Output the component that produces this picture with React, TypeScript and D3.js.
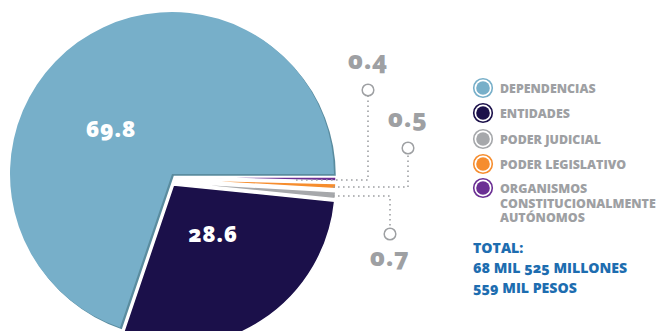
import React from "react";
import * as d3 from "d3";

const categories = [
  "ORGANISMOS CONSTITUCIONALMENTE AUTÓNOMOS",
  "PODER LEGISLATIVO",
  "PODER JUDICIAL",
  "ENTIDADES",
  "DEPENDENCIAS",
];
const values = [0.4, 0.5, 0.7, 28.6, 69.8];
const colors = ["#6b2f94", "#f68d2e", "#a6a8ab", "#1b104a", "#77afc9"];
const valueLabels = ["0.4", "0.5", "0.7", "28.6", "69.8"];

const legendItems = ["DEPENDENCIAS", "ENTIDADES", "PODER JUDICIAL", "PODER LEGISLATIVO", "ORGANISMOS"];
const legendColors = ["#77afc9", "#1b104a", "#a6a8ab", "#f68d2e", "#6b2f94"];
const legendExtra = ["CONSTITUCIONALMENTE", "AUTÓNOMOS"];
const totalLines = ["TOTAL:", "68 MIL 525 MILLONES", "559 MIL PESOS"];

const W = 658;
const H = 331;
const cx = 172;
const cy = 174;
const R = 162;
const offsets = [
  [2, 3],
  [2, 5.5],
  [2, 8.5],
  [1.5, 11],
  [0, 0],
];
const FONT = "'Open Sans', 'Lato', sans-serif";
const GRAY = "#9ea0a3";
const BLUE = "#1d6db0";

export default function App() {
  const pie = d3
    .pie<number>()
    .sort(null)
    .startAngle(Math.PI / 2)
    .endAngle(Math.PI / 2 + 2 * Math.PI)
    .value((d) => d);
  const arcs = pie(values);
  const arc = d3.arc<d3.PieArcDatum<number>>().innerRadius(0).outerRadius(R);

  const big = arcs[4];

  const callouts = [
    { i: 0, cxp: 368, cyp: 90, lx: 368, ly: 69, lineY: 180, startX: 296 },
    { i: 1, cxp: 408, cyp: 148, lx: 408, ly: 127, lineY: 187, startX: 333 },
    { i: 2, cxp: 390, cyp: 234, lx: 390, ly: 266, lineY: 196, startX: 333 },
  ];

  const numStyle = { fontFeatureSettings: "'onum'", letterSpacing: "0.8px" } as React.CSSProperties;

  return (
    <svg width={W} height={H} style={{ position: "absolute", left: 0, top: 0 }}>
      <rect width={W} height={H} fill="#fff" />
      <path d={arc(big) || ""} transform={`translate(${cx + 1.8},${cy + 1.8})`} fill="#5a8c9f" />
      <path d={arc(big) || ""} transform={`translate(${cx},${cy})`} fill={colors[4]} />
      {[3, 2, 1, 0].map((i) => (
        <path
          key={i}
          d={arc(arcs[i]) || ""}
          transform={`translate(${cx + offsets[i][0]},${cy + offsets[i][1]})`}
          fill={colors[i]}
          stroke="#fff"
          strokeWidth={1.5}
          strokeLinejoin="miter"
        />
      ))}
      <text x={111} y={137} textAnchor="middle" fill="#fff" fontFamily={FONT} fontWeight={800} fontSize={22.5} style={numStyle}>
        {valueLabels[4]}
      </text>
      <text x={213} y={242} textAnchor="middle" fill="#fff" fontFamily={FONT} fontWeight={800} fontSize={22} style={numStyle}>
        {valueLabels[3]}
      </text>
      {callouts.map((c) => (
        <g key={c.i}>
          <polyline
            points={
              c.cyp < c.lineY
                ? `${c.startX},${c.lineY} ${c.cxp},${c.lineY} ${c.cxp},${c.cyp + 6}`
                : `${c.startX},${c.lineY} ${c.cxp},${c.lineY} ${c.cxp},${c.cyp - 6}`
            }
            fill="none"
            stroke={GRAY}
            strokeWidth={1.6}
            strokeDasharray="1.6,3.4"
          />
          <circle cx={c.cxp} cy={c.cyp} r={5.8} fill="#fff" stroke={GRAY} strokeWidth={1.5} />
          <text
            x={c.lx}
            y={c.ly}
            textAnchor="middle"
            fill={GRAY}
            fontFamily={FONT}
            fontWeight={800}
            fontSize={25}
            style={{ fontFeatureSettings: "'onum'", letterSpacing: "1px" }}
          >
            {valueLabels[c.i]}
          </text>
        </g>
      ))}
      {legendItems.map((t, k) => {
        const y = [88, 113, 139, 164, 188][k];
        return (
          <g key={t}>
            <circle cx={483} cy={y} r={9.3} fill="#fff" stroke={legendColors[k]} strokeWidth={1.6} />
            <circle cx={483} cy={y} r={6.8} fill={legendColors[k]} />
            <text x={500} y={y + 4.6} fill={GRAY} fontFamily={FONT} fontWeight={800} fontSize={12.4}>
              {t}
            </text>
          </g>
        );
      })}
      {legendExtra.map((t, k) => (
        <text key={t} x={500} y={208 + k * 14} fill={GRAY} fontFamily={FONT} fontWeight={800} fontSize={12.4}>
          {t}
        </text>
      ))}
      {totalLines.map((t, k) => (
        <text
          key={t}
          x={473}
          y={253 + k * 20}
          fill={BLUE}
          fontFamily={FONT}
          fontWeight={800}
          fontSize={14.1}
          style={{ fontFeatureSettings: "'onum'" }}
        >
          {t}
        </text>
      ))}
    </svg>
  );
}
